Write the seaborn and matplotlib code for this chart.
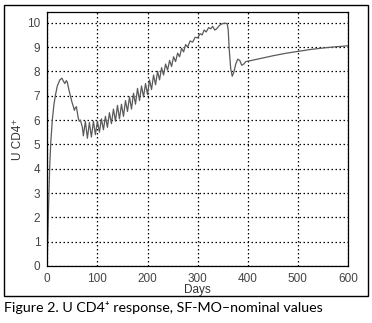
import matplotlib
matplotlib.use("Agg")
import matplotlib.pyplot as plt
import seaborn as sns
import pandas as pd
from matplotlib.patches import Rectangle

days = [0, 1, 3, 5, 7, 10, 13, 16, 20, 25, 29, 32, 35, 38, 40, 43, 46, 49, 52, 54,
        56, 58, 60, 62, 64, 66, 68, 70, 72, 76, 80, 84, 88, 92, 96, 100, 104, 108,
        112, 116, 120, 124, 128, 132, 136, 140, 144, 148, 152, 156, 160, 164, 168, 172,
        176, 180, 184, 188, 192, 196, 200, 204, 208, 212, 216, 220, 224, 228, 232, 236,
        240, 244, 248, 252, 256, 260, 264, 268, 272, 276, 280, 285, 290, 295, 300,
        305, 309, 313, 317, 322, 326, 330, 334, 338, 343, 348, 352, 356, 359, 361, 363, 366,
        369, 372, 376, 380, 384, 388, 392, 396, 400, 410, 430, 450, 475, 500, 525, 550, 575, 600]
ucd4 = [0.3, 1.2, 2.8, 4.2, 5.1, 6.0, 6.6, 7.0, 7.4, 7.65, 7.72, 7.6, 7.5, 7.62, 7.55, 7.25, 7.0, 6.75, 6.55, 6.4,
        6.5, 6.55, 6.3, 6.05, 5.95, 6.0, 5.85, 5.7, 5.35, 5.95, 5.25, 5.9, 5.3, 5.95, 5.4, 5.95, 5.5, 6.05,
        5.6, 6.15, 5.7, 6.3, 5.85, 6.45, 5.95, 6.6, 6.05, 6.65, 6.15, 6.8, 6.35, 6.95, 6.45, 7.1,
        6.65, 7.3, 6.8, 7.4, 6.95, 7.5, 7.05, 7.65, 7.25, 7.85, 7.45, 8.0, 7.65, 8.15, 7.85, 8.3,
        8.05, 8.45, 8.2, 8.6, 8.4, 8.75, 8.6, 8.95, 8.8, 9.1, 9.0, 9.25, 9.2, 9.4, 9.38,
        9.55, 9.5, 9.7, 9.62, 9.8, 9.75, 9.85, 9.7, 9.75, 9.88, 9.95, 9.97, 9.98, 9.95, 9.7, 8.9, 8.1,
        7.8, 7.95, 8.3, 8.5, 8.45, 8.25, 8.3, 8.4, 8.42, 8.46, 8.55, 8.64, 8.74, 8.82, 8.9, 8.96, 9.01, 9.05]

xticks = [0, 100, 200, 300, 400, 500, 600]
yticks = [0, 1, 2, 3, 4, 5, 6, 7, 8, 9, 10]

sns.set_style("white")
plt.rcParams['font.family'] = ['Liberation Sans', 'DejaVu Sans']

fig = plt.figure(figsize=(3.72, 3.23), dpi=100)
ax = fig.add_axes([47.3 / 372, 1 - 266 / 323, (348 - 47.3) / 372, (266 - 12) / 323])

df = pd.DataFrame({"Days": days, "U": ucd4})
sns.lineplot(data=df, x="Days", y="U", ax=ax, color="#5a5a5a", linewidth=0.9, estimator=None, sort=False)

ax.set_xlim(0, 600)
ax.set_ylim(0, 10.44)
ax.set_xticks(xticks)
ax.set_yticks(yticks)
ax.set_xticklabels([str(t) for t in xticks])
ax.set_yticklabels([str(t) for t in yticks])
ax.tick_params(direction="in", length=3, width=0.6, labelsize=8.5, labelcolor="#444444", color="black")
ax.tick_params(axis="x", pad=5)
ax.tick_params(axis="y", pad=5)
ax.grid(True, color="black", linestyle=(0, (1.2, 2.0)), linewidth=0.9)
for s in ax.spines.values():
    s.set_color("black")
    s.set_linewidth(0.9)
ax.set_xlabel("Days", fontsize=8.5, color="#333333")
ax.set_ylabel("U CD4\u207a", fontsize=8.5, color="#333333")
ax.xaxis.set_label_coords(0.5, -(290 - 266) / 254, transform=ax.transAxes)
ax.yaxis.set_label_coords(-(47.3 - 18) / 300.7, 0.5, transform=ax.transAxes)
ax.xaxis.label.set_va("center")
ax.yaxis.label.set_va("center")

fig.patches.append(Rectangle((3.5 / 372, 1 - 296 / 323), (367.5 - 3.5) / 372, (296 - 5) / 323,
                             transform=fig.transFigure, fill=False, edgecolor="black", linewidth=1.0))

fig.text(4 / 372, 1 - 308 / 323, "Figure 2. U CD4\u207a response, SF-MO\u2013nominal values",
         fontsize=10.3, color="black", va="center", ha="left", family=['Lato', 'DejaVu Sans'])

fig.savefig("out.png", dpi=100)
